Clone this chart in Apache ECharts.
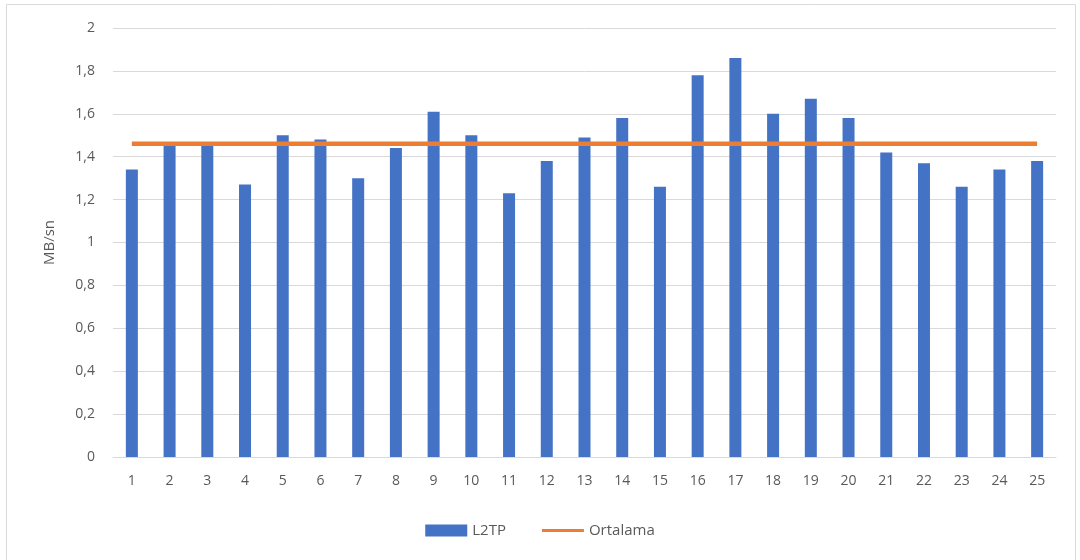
<!DOCTYPE html>
<html>
<head>
<meta charset="utf-8">
<script src="https://cdn.jsdelivr.net/npm/echarts@6/dist/echarts.min.js"></script>
<style>
  html, body { margin: 0; padding: 0; background: #ffffff; }
  #chart { width: 1080px; height: 560px; }
</style>
</head>
<body>
<div id="chart"></div>
<script>
// Test run numbers
const categories = ['1','2','3','4','5','6','7','8','9','10','11','12','13','14','15','16','17','18','19','20','21','22','23','24','25'];

// Measured L2TP throughput per run (MB/s)
const l2tpValues = [1.34, 1.45, 1.45, 1.27, 1.50, 1.48, 1.30, 1.44, 1.61, 1.50,
                    1.23, 1.38, 1.49, 1.58, 1.26, 1.78, 1.86, 1.60, 1.67, 1.58,
                    1.42, 1.37, 1.26, 1.34, 1.38];

// Average throughput, drawn as a flat line across all runs
const averageValues = [1.46, 1.46, 1.46, 1.46, 1.46, 1.46, 1.46, 1.46, 1.46, 1.46,
                       1.46, 1.46, 1.46, 1.46, 1.46, 1.46, 1.46, 1.46, 1.46, 1.46,
                       1.46, 1.46, 1.46, 1.46, 1.46];

const seriesNames = ['L2TP', 'Ortalama'];
const yAxisTitle = 'MB/sn';

const textColor = '#595959';
const fontFamily = '"Open Sans", "Liberation Sans", sans-serif';

const chart = echarts.init(document.getElementById('chart'), null, { renderer: 'canvas' });

chart.setOption({
  backgroundColor: '#ffffff',
  animation: false,
  textStyle: { fontFamily: fontFamily },
  graphic: [{
    type: 'rect',
    shape: { x: 6.5, y: 4.5, width: 1069, height: 580 },
    style: { fill: 'none', stroke: '#d9d9d9', lineWidth: 1 },
    silent: true,
    z: -10
  }],
  grid: { left: 113, right: 24, top: 28, bottom: 103 },
  legend: {
    data: [
      { name: seriesNames[0], icon: 'rect' },
      // plain stroke icon for the average line (no marker dot)
      { name: seriesNames[1], icon: 'path://M0,0 L42,0 L42,3 L0,3 Z' }
    ],
    left: 'center',
    top: 518,
    itemWidth: 42,
    itemHeight: 12,
    itemGap: 36,
    textStyle: { color: textColor, fontSize: 15, fontFamily: fontFamily }
  },
  xAxis: {
    type: 'category',
    data: categories,
    axisLine: { show: true, lineStyle: { color: '#d9d9d9', width: 1 } },
    axisTick: { show: false },
    axisLabel: { color: textColor, fontSize: 14, margin: 17, fontFamily: fontFamily }
  },
  yAxis: {
    type: 'value',
    min: 0,
    max: 2,
    interval: 0.2,
    name: yAxisTitle,
    nameLocation: 'middle',
    nameGap: 56,
    nameRotate: 90,
    nameTextStyle: { color: textColor, fontSize: 15, fontFamily: fontFamily },
    axisLine: { show: false },
    axisTick: { show: false },
    splitLine: { lineStyle: { color: '#d9d9d9', width: 1 } },
    axisLabel: {
      color: textColor,
      fontSize: 14,
      margin: 18,
      fontFamily: fontFamily,
      formatter: function (v) {
        return String(Math.round(v * 10) / 10).replace('.', ',');
      }
    }
  },
  series: [
    {
      name: seriesNames[0],
      type: 'bar',
      data: l2tpValues,
      barWidth: 12,
      itemStyle: { color: '#4472c4' },
      z: 2
    },
    {
      name: seriesNames[1],
      type: 'line',
      data: averageValues,
      symbol: 'none',
      lineStyle: { color: '#ed7d31', width: 4.5 },
      itemStyle: { color: '#ed7d31' },
      z: 3
    }
  ]
});
</script>
</body>
</html>
